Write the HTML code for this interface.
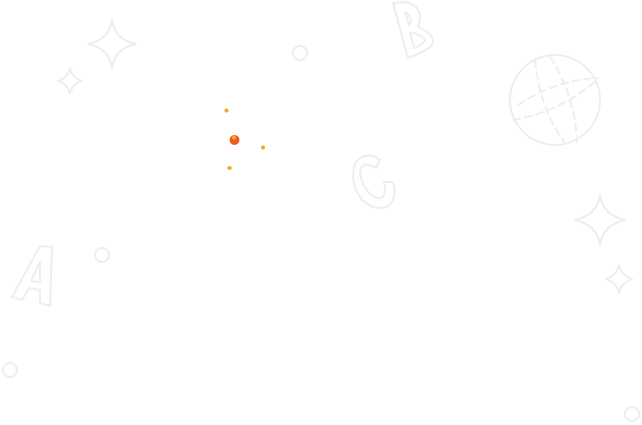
<!DOCTYPE html>
<html><head><meta charset="utf-8"><style>
html,body{margin:0;padding:0;background:#fff;width:642px;height:425px;overflow:hidden}
</style></head><body>
<svg width="642" height="425" viewBox="0 0 642 425" xmlns="http://www.w3.org/2000/svg">
<g fill="none" stroke="#efeee8" stroke-width="2" stroke-linejoin="round" stroke-linecap="round">
<!-- sparkles -->
<path d="M112 20 Q115 40 136 44 Q115 48 112 68 Q109 48 88 44 Q109 40 112 20Z"/>
<path d="M70 68 Q72 78 82 81 Q72 84 70 94 Q68 84 58 81 Q68 78 70 68Z"/>
<path d="M600 195 Q603 215 625 220 Q603 225 600 245 Q597 225 575 220 Q597 215 600 195Z"/>
<path d="M619 265 Q621 275 632 279 Q621 283 619 293 Q617 283 606 279 Q617 275 619 265Z"/>
<!-- circles -->
<circle cx="300" cy="53" r="7"/>
<circle cx="102" cy="255" r="7"/>
<circle cx="10" cy="370" r="7"/>
<circle cx="632" cy="414" r="7"/>
<!-- globe -->
<circle cx="555" cy="100" r="45"/>
<g stroke-dasharray="7 5">
<path d="M513 120 Q560 112 597 80"/>
<path d="M518 105 Q555 80 598 78"/>
<path d="M535 60 Q540 110 565 143"/>
<path d="M550 57 Q575 95 577 142"/>
</g>
<!-- B -->
<path d="M393 3 L407 2 Q425 8 418 27 Q437 35 432 45 Q425 52 408 58 Z M405 12 L409 25 Q414 18 405 12Z M410 33 L414 48 Q424 44 425 40 Q420 33 410 33Z"/>
<!-- C -->
<path d="M380 160 Q366 150 356 162 Q348 180 362 200 Q375 212 388 206 Q398 198 393 182 L384 182 Q388 200 376 198 Q362 190 360 172 Q362 160 376 168 Z"/>
<!-- A -->
<path d="M40 246 L52 247 L50 306 L40 303 L40 290 L29 288 L22 300 L12 297 Z M40 262 L31 281 L40 282 Z"/>
</g>
<circle cx="226.5" cy="110.5" r="2" fill="#f5a623"/>
<circle cx="263" cy="147.5" r="2" fill="#f5a623"/>
<circle cx="229.5" cy="168" r="2" fill="#f5a623"/>
<circle cx="234.5" cy="140" r="5" fill="#f05a1e"/>
<circle cx="234" cy="137.5" r="2" fill="#f7a532"/>
</svg>
</body></html>
